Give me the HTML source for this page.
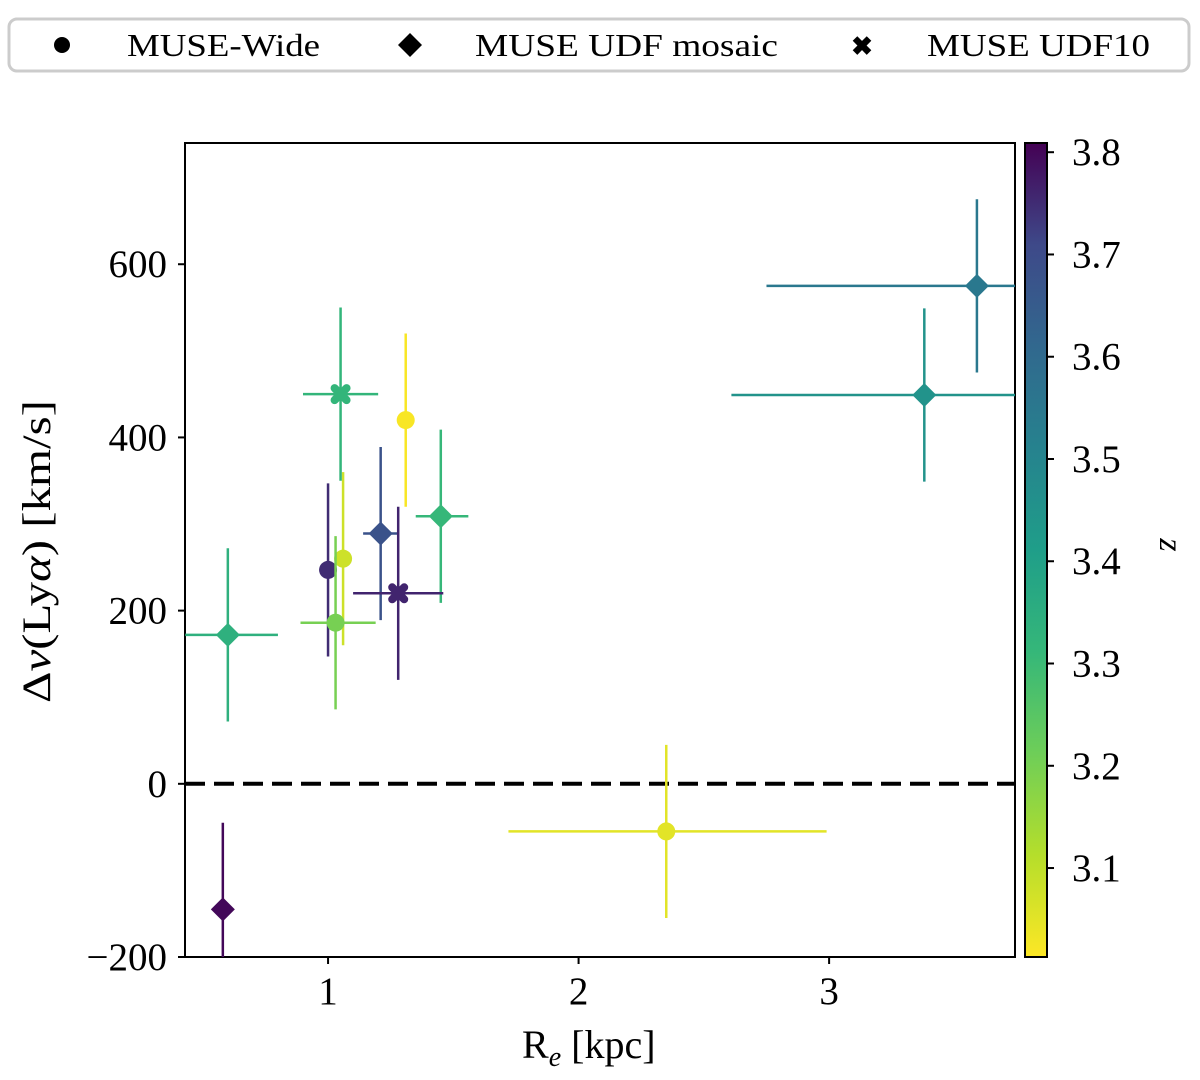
<!DOCTYPE html>
<html><head><meta charset="utf-8"><style>
body{margin:0;background:#fff;}
svg text{font-family:"Liberation Serif",serif;fill:#000;}
</style></head><body>
<svg id="chart" width="1200" height="1075" xmlns="http://www.w3.org/2000/svg">
<defs>
<linearGradient id="vir" x1="0" y1="1" x2="0" y2="0">
<stop offset="0" stop-color="#fde725"/><stop offset="0.125" stop-color="#b5de2b"/><stop offset="0.25" stop-color="#6ece58"/><stop offset="0.375" stop-color="#35b779"/><stop offset="0.5" stop-color="#1f9e89"/><stop offset="0.625" stop-color="#26828e"/><stop offset="0.75" stop-color="#31688e"/><stop offset="0.875" stop-color="#3e4989"/><stop offset="1" stop-color="#440154"/>
</linearGradient>
<clipPath id="pc"><rect x="185" y="143" width="830" height="814"/></clipPath>
</defs>
<g>
<rect x="9" y="19" width="1180" height="52" rx="8" fill="#fff" stroke="#ccc" stroke-width="3"/>
<circle cx="62" cy="45" r="8" fill="#000"/>
<text x="127" y="56" font-size="32" textLength="193" lengthAdjust="spacingAndGlyphs">MUSE-Wide</text>
<polygon points="410,33 422,45 410,57 398,45" fill="#000"/>
<text x="475" y="56" font-size="32" textLength="303" lengthAdjust="spacingAndGlyphs">MUSE UDF mosaic</text>
<text x="862" y="55" font-size="26" font-weight="bold" text-anchor="middle">✖</text>
<text x="927" y="56" font-size="32" textLength="223" lengthAdjust="spacingAndGlyphs">MUSE UDF10</text>
</g>
<g id="plot"></g>
<rect x="1025" y="143" width="22" height="814" fill="url(#vir)"/>
<rect x="1025" y="143" width="22" height="814" fill="none" stroke="#000" stroke-width="2"/>
<text transform="translate(1160,545) rotate(90)" font-size="34" font-style="italic" text-anchor="middle">z</text>
<text x="522" y="1058" font-size="40">R<tspan font-style="italic" font-size="28" dy="8">e</tspan><tspan dy="-8"> [kpc]</tspan></text>
<text transform="translate(50,703) rotate(-90)" font-size="40" textLength="303" lengthAdjust="spacingAndGlyphs">Δ<tspan font-style="italic">v</tspan>(Ly<tspan font-style="italic">α</tspan>) [km/s]</text>
</svg>
<script>
const re=[1.0,1.06,1.03,1.31,2.35,0.6,0.58,1.21,1.45,3.59,3.38,1.05,1.28];
const dv=[247,260,186,420,-55,172,-145,289,309,575,449,450,220];
const xerrLo=[0,0,0.14,0,0.63,0.17,0,0.07,0.1,0.84,0.77,0.15,0.18];
const xerrHi=[0,0,0.16,0,0.64,0.2,0,0.07,0.11,0.3,0.5,0.15,0.18];
const yerr=[100,100,100,100,100,100,100,100,100,100,100,100,100];
const zs=[3.75,3.08,3.2,3.02,3.05,3.34,3.8,3.68,3.31,3.55,3.45,3.32,3.76];
const markers=["o","o","o","o","o","d","d","d","d","d","d","x","x"];
const xTicks=[1,2,3];
const yTicks=[-200,0,200,400,600];
const zTicks=[3.1,3.2,3.3,3.4,3.5,3.6,3.7,3.8];
const NS="http://www.w3.org/2000/svg";
const X0=185,X1=1015,Y0=143,Y1=957;
const xmin=0.429,xmax=3.742,ymin=-200,ymax=740,zmin=3.013,zmax=3.809;
const sx=v=>X0+(v-xmin)/(xmax-xmin)*(X1-X0);
const sy=v=>Y1-(v-ymin)/(ymax-ymin)*(Y1-Y0);
const sz=v=>Y1-(v-zmin)/(zmax-zmin)*(Y1-Y0);
const vir=[[253,231,37],[181,222,43],[110,206,88],[53,183,121],[31,158,137],[38,130,142],[49,104,142],[62,73,137],[68,1,84]];
function col(z){let t=(z-zmin)/(zmax-zmin);t=Math.max(0,Math.min(1,t))*8;const i=Math.min(7,Math.floor(t)),f=t-i;const a=vir[i],b=vir[i+1];return `rgb(${a.map((c,k)=>Math.round(c+(b[k]-c)*f)).join(',')})`;}
const svg=document.getElementById('chart'),g=document.getElementById('plot');
function el(tag,attrs,parent){const e=document.createElementNS(NS,tag);for(const k in attrs)e.setAttribute(k,attrs[k]);(parent||g).appendChild(e);return e;}
const axes=el('rect',{x:X0,y:Y0,width:X1-X0,height:Y1-Y0,fill:'#fff',stroke:'#000','stroke-width':2});


const zl=el('line',{x1:X0,x2:X1,y1:sy(0),y2:sy(0),stroke:'#000','stroke-width':4,'stroke-dasharray':'20,9'});


const pg=el('g',{'clip-path':'url(#pc)'});
for(let i=0;i<re.length;i++){
  const c=col(zs[i]),cx=sx(re[i]),cy=sy(dv[i]);
  const grp=el('g',{},pg);
  
  
  el('line',{x1:cx,x2:cx,y1:sy(dv[i]-yerr[i]),y2:sy(dv[i]+yerr[i]),stroke:c,'stroke-width':2.5},grp);
  if(xerrLo[i]+xerrHi[i]>0)el('line',{x1:sx(re[i]-xerrLo[i]),x2:sx(re[i]+xerrHi[i]),y1:cy,y2:cy,stroke:c,'stroke-width':2.5},grp);
  if(markers[i]=='o')el('circle',{cx,cy,r:9,fill:c},grp);
  else if(markers[i]=='d')el('polygon',{points:`${cx},${cy-12} ${cx+12},${cy} ${cx},${cy+12} ${cx-12},${cy}`,fill:c},grp);
  else el('path',{d:`M${cx-6},${cy-6}L${cx+6},${cy+6}M${cx+6},${cy-6}L${cx-6},${cy+6}`,stroke:c,'stroke-width':8,'stroke-linecap':'round'},grp);
}
xTicks.forEach(v=>{const x=sx(v);el('line',{x1:x,x2:x,y1:Y1,y2:Y1+7,stroke:'#000','stroke-width':2});
 const t=el('text',{x:x,y:Y1+47,'font-size':39,'text-anchor':'middle'});t.textContent=v;
 
 });
yTicks.forEach(v=>{const y=sy(v);el('line',{x1:X0-7,x2:X0,y1:y,y2:y,stroke:'#000','stroke-width':2});
 const t=el('text',{x:X0-18,y:y+13,'font-size':39,'text-anchor':'end'});t.textContent=v<0?'\u2212'+(-v):v;
 
 });
zTicks.forEach(v=>{const y=sz(v);el('line',{x1:1047,x2:1054,y1:y,y2:y,stroke:'#000','stroke-width':2},svg);
 const t=el('text',{x:1072,y:y+13,'font-size':39},svg);t.textContent=v.toFixed(1);
 
 });
</script>
</body></html>
